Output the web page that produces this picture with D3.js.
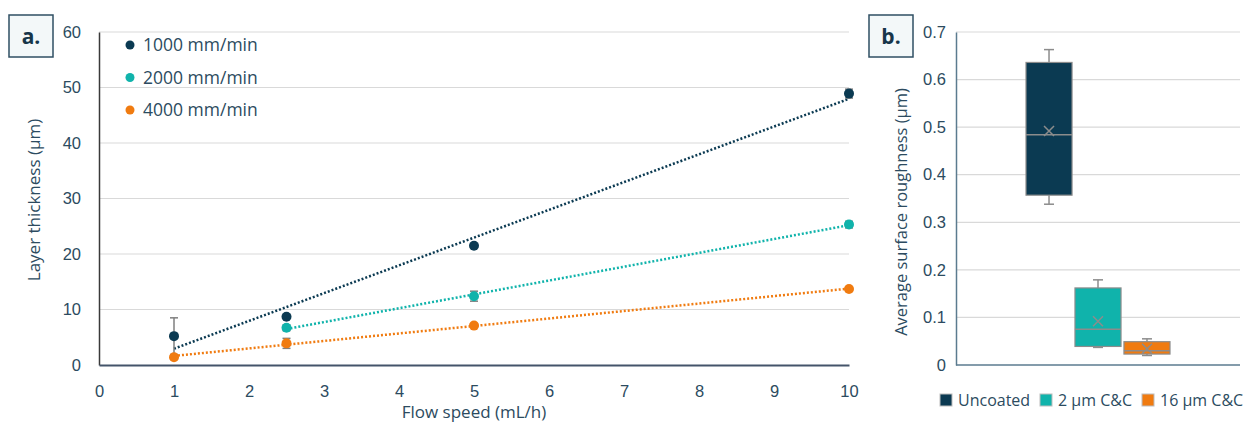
<!DOCTYPE html>
<html>
<head>
<meta charset="utf-8">
<script src="https://cdn.jsdelivr.net/npm/d3@7"></script>
<style>
  body { margin: 0; background: #ffffff; }
  svg { display: block; font-family: "Open Sans", "Noto Sans", sans-serif; }
</style>
</head>
<body>
<svg id="chart" width="1244" height="424"></svg>
<script>
// panel a data
var flowSpeeds = [1, 2.5, 5, 10];
var series = ["1000 mm/min", "2000 mm/min", "4000 mm/min"];
var thickness1000 = [5.2, 8.7, 21.5, 48.9];
var thickness2000 = [null, 6.7, 12.4, 25.3];
var thickness4000 = [1.4, 3.9, 7.1, 13.7];
var err1000 = [3.3, 0.3, 0.3, 0.8];
var err2000 = [null, 0.5, 0.9, 0.6];
var err4000 = [0.3, 0.9, 0.3, 0.3];
var yTicksA = [0, 10, 20, 30, 40, 50, 60];
var xTicksA = [0, 1, 2, 3, 4, 5, 6, 7, 8, 9, 10];

// panel b data (box plots)
var coatings = ["Uncoated", "2 µm C&C", "16 µm C&C"];
var whiskerLow = [0.338, 0.037, 0.020];
var q1 = [0.357, 0.039, 0.023];
var median = [0.484, 0.075, 0.030];
var meanVal = [0.492, 0.092, 0.034];
var q3 = [0.636, 0.162, 0.049];
var whiskerHigh = [0.663, 0.179, 0.055];
var yTicksB = [0, 0.1, 0.2, 0.3, 0.4, 0.5, 0.6, 0.7];

var colors = ["#0b3a52", "#10b3ab", "#f07b10"];
var textColor = "#2c4b60";

var svg = d3.select("#chart");

// ---------- panel a ----------
var xA = d3.scaleLinear().domain([0, 10]).range([99, 849]);
var yA = d3.scaleLinear().domain([0, 60]).range([365, 32]);

var gA = svg.append("g");

gA.selectAll("line.grid")
  .data(yTicksA.filter(d => d > 0))
  .enter().append("line")
  .attr("x1", xA(0)).attr("x2", xA(10))
  .attr("y1", d => yA(d)).attr("y2", d => yA(d))
  .attr("stroke", "#d9d9d9").attr("stroke-width", 1.2);

var yAxisA = gA.append("g")
  .attr("transform", `translate(${xA(0)},0)`)
  .call(d3.axisLeft(yA).tickValues(yTicksA).tickSize(0).tickPadding(18));
yAxisA.select(".domain").attr("stroke", "#3a3a3a").attr("stroke-width", 1.5);
yAxisA.selectAll("text").attr("fill", textColor).style("font-size", "16.5px");

var xAxisA = gA.append("g")
  .attr("transform", `translate(0,${yA(0)})`)
  .call(d3.axisBottom(xA).tickValues(xTicksA).tickSize(0).tickPadding(20));
xAxisA.select(".domain").attr("stroke", "#44546a").attr("stroke-width", 2);
xAxisA.selectAll("text").attr("fill", textColor).style("font-size", "16.5px");

gA.append("text")
  .attr("x", xA(5)).attr("y", 418)
  .attr("text-anchor", "middle")
  .attr("fill", textColor).style("font-size", "17px")
  .text("Flow speed (mL/h)");

gA.append("text")
  .attr("transform", "translate(40,200) rotate(-90)")
  .attr("text-anchor", "middle")
  .attr("fill", textColor).style("font-size", "17px")
  .text("Layer thickness (µm)");

var allY = [thickness1000, thickness2000, thickness4000];
var allErr = [err1000, err2000, err4000];

// linear trendlines (least squares over each series' points)
allY.forEach(function(vals, s) {
  var pts = flowSpeeds.map((x, i) => [x, vals[i]]).filter(p => p[1] != null);
  var mx = d3.mean(pts, p => p[0]), my = d3.mean(pts, p => p[1]);
  var sxy = d3.sum(pts, p => (p[0] - mx) * (p[1] - my));
  var sxx = d3.sum(pts, p => (p[0] - mx) * (p[0] - mx));
  var slope = sxy / sxx, icpt = my - slope * mx;
  var x0 = pts[0][0], x1 = pts[pts.length - 1][0];
  gA.append("line")
    .attr("x1", xA(x0)).attr("y1", yA(slope * x0 + icpt))
    .attr("x2", xA(x1)).attr("y2", yA(slope * x1 + icpt))
    .attr("stroke", colors[s]).attr("stroke-width", 2.5)
    .attr("stroke-dasharray", "2,2");
});

// error bars and points
allY.forEach(function(vals, s) {
  var pts = flowSpeeds.map((x, i) => ({ x: x, y: vals[i], e: allErr[s][i] }))
    .filter(p => p.y != null);
  var eb = gA.append("g").selectAll("g").data(pts).enter().append("g");
  eb.append("line")
    .attr("x1", d => xA(d.x)).attr("x2", d => xA(d.x))
    .attr("y1", d => yA(d.y - d.e)).attr("y2", d => yA(d.y + d.e))
    .attr("stroke", "#7f7f7f").attr("stroke-width", 1.5);
  [-1, 1].forEach(function(sign) {
    eb.append("line")
      .attr("x1", d => xA(d.x) - 4).attr("x2", d => xA(d.x) + 4)
      .attr("y1", d => yA(d.y + sign * d.e)).attr("y2", d => yA(d.y + sign * d.e))
      .attr("stroke", "#7f7f7f").attr("stroke-width", 1.5);
  });
  gA.append("g").selectAll("circle").data(pts).enter().append("circle")
    .attr("cx", d => xA(d.x)).attr("cy", d => yA(d.y))
    .attr("r", 5).attr("fill", colors[s]);
});

// legend a
var legA = gA.append("g").selectAll("g").data(series).enter().append("g")
  .attr("transform", (d, i) => `translate(130,${45 + i * 32.5})`);
legA.append("circle").attr("r", 4.5).attr("fill", (d, i) => colors[i]);
legA.append("text").attr("x", 13).attr("dy", "0.35em")
  .attr("fill", textColor).style("font-size", "17.5px").text(d => d);

// ---------- panel b ----------
var yB = d3.scaleLinear().domain([0, 0.7]).range([365, 32]);
var xB = d3.scaleBand().domain(coatings).range([1026, 1170]).paddingInner(0.06);
var gB = svg.append("g");

gB.selectAll("line.grid")
  .data(yTicksB.filter(d => d > 0))
  .enter().append("line")
  .attr("x1", 956).attr("x2", 1240)
  .attr("y1", d => yB(d)).attr("y2", d => yB(d))
  .attr("stroke", "#d9d9d9").attr("stroke-width", 1.2);

var yAxisB = gB.append("g")
  .attr("transform", "translate(956,0)")
  .call(d3.axisLeft(yB).tickValues(yTicksB).tickSize(0).tickPadding(10)
    .tickFormat(d => d === 0 ? "0" : d3.format(".1f")(d)));
yAxisB.select(".domain").attr("stroke", "#5b7b8f").attr("stroke-width", 1.5);
yAxisB.selectAll("text").attr("fill", textColor).style("font-size", "16.5px");

gB.append("line")
  .attr("x1", 956).attr("x2", 1240).attr("y1", yB(0)).attr("y2", yB(0))
  .attr("stroke", "#5b7b8f").attr("stroke-width", 1.5);

gB.append("text")
  .attr("transform", "translate(907,212) rotate(-90)")
  .attr("text-anchor", "middle")
  .attr("fill", textColor).style("font-size", "16.5px")
  .text("Average surface roughness (µm)");

var boxes = gB.selectAll("g.box").data(coatings).enter().append("g");
var wc = "#8c8c8c";
boxes.append("line")
  .attr("x1", d => xB(d) + xB.bandwidth() / 2).attr("x2", d => xB(d) + xB.bandwidth() / 2)
  .attr("y1", (d, i) => yB(whiskerHigh[i])).attr("y2", (d, i) => yB(q3[i]))
  .attr("stroke", wc).attr("stroke-width", 1.5);
boxes.append("line")
  .attr("x1", d => xB(d) + xB.bandwidth() / 2).attr("x2", d => xB(d) + xB.bandwidth() / 2)
  .attr("y1", (d, i) => yB(whiskerLow[i])).attr("y2", (d, i) => yB(q1[i]))
  .attr("stroke", wc).attr("stroke-width", 1.5);
[whiskerHigh, whiskerLow].forEach(function(arr) {
  boxes.append("line")
    .attr("x1", d => xB(d) + xB.bandwidth() / 2 - 5).attr("x2", d => xB(d) + xB.bandwidth() / 2 + 5)
    .attr("y1", (d, i) => yB(arr[i])).attr("y2", (d, i) => yB(arr[i]))
    .attr("stroke", wc).attr("stroke-width", 1.5);
});
boxes.append("rect")
  .attr("x", d => xB(d)).attr("width", xB.bandwidth())
  .attr("y", (d, i) => yB(q3[i])).attr("height", (d, i) => yB(q1[i]) - yB(q3[i]))
  .attr("fill", (d, i) => colors[i]).attr("stroke", wc).attr("stroke-width", 1.2);
boxes.append("line")
  .attr("x1", d => xB(d)).attr("x2", d => xB(d) + xB.bandwidth())
  .attr("y1", (d, i) => yB(median[i])).attr("y2", (d, i) => yB(median[i]))
  .attr("stroke", wc).attr("stroke-width", 1.5);
boxes.append("path")
  .attr("d", (d, i) => {
    var cx = xB(d) + xB.bandwidth() / 2, cy = yB(meanVal[i]), r = 5;
    return `M${cx - r},${cy - r}L${cx + r},${cy + r}M${cx - r},${cy + r}L${cx + r},${cy - r}`;
  })
  .attr("stroke", wc).attr("stroke-width", 1.5);

// legend b
var legXs = [940, 1040, 1142];
var legB = gB.append("g").selectAll("g").data(coatings).enter().append("g")
  .attr("transform", (d, i) => `translate(${legXs[i]},400)`);
legB.append("rect").attr("x", 0).attr("y", -6).attr("width", 12).attr("height", 12)
  .attr("fill", (d, i) => colors[i]).attr("stroke", "#bdbdbd").attr("stroke-width", 1);
legB.append("text").attr("x", 18).attr("dy", "0.35em")
  .attr("fill", textColor).style("font-size", "16px").text(d => d);

// ---------- panel labels ----------
[["a.", 9], ["b.", 869]].forEach(function(p) {
  var g = svg.append("g").attr("transform", `translate(${p[1]},15)`);
  g.append("rect").attr("width", 44).attr("height", 42)
    .attr("fill", "#f3f8f9").attr("stroke", "#2f4f63").attr("stroke-width", 1.5);
  g.append("text").attr("x", 22).attr("y", 29).attr("text-anchor", "middle")
    .attr("fill", "#17364a").style("font-size", "21px").style("font-weight", "bold")
    .text(p[0]);
});
</script>
</body>
</html>
